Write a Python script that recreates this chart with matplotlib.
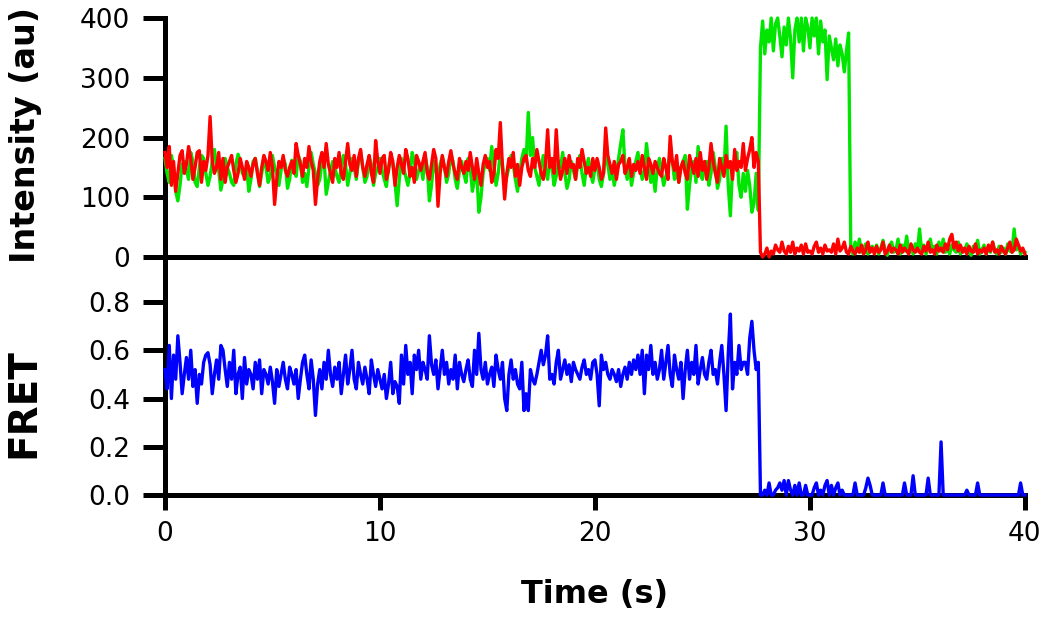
import numpy as np
import matplotlib
matplotlib.use("Agg")
from matplotlib import pyplot as plt

# single-molecule trace, one frame every 0.1 s
frame_time = 0.1

# donor (green) intensity, au
green = [
    165, 140, 125, 170, 150, 110, 94, 120, 155, 160,
    145, 130, 175, 160, 125, 118, 150, 170, 165, 140,
    120, 135, 160, 180, 150, 145, 112, 130, 165, 150,
    140, 125, 120, 155, 172, 160, 140, 135, 150, 110,
    130, 160, 165, 145, 118, 140, 162, 150, 125, 135,
    170, 150, 140, 120, 145, 165, 155, 115, 130, 162,
    150, 135, 170, 160, 125, 140, 118, 150, 175, 155,
    140, 120, 130, 158, 165, 105, 125, 145, 160, 150,
    135, 125, 150, 170, 155, 120, 140, 165, 150, 130,
    160, 175, 150, 125, 135, 168, 155, 120, 140, 150,
    165, 145, 130, 118, 150, 170, 155, 125, 86, 130,
    165, 150, 135, 120, 140, 175, 160, 130, 145, 155,
    130, 170, 150, 94, 120, 160, 145, 130, 155, 168,
    150, 125, 140, 172, 160, 130, 115, 145, 160, 140,
    125, 165, 150, 110, 130, 145, 75, 100, 140, 160,
    165, 145, 185, 150, 120, 140, 175, 155, 118, 135,
    150, 170, 155, 130, 110, 140, 165, 180, 160, 242,
    170, 200, 150, 135, 120, 150, 170, 145, 130, 165,
    150, 120, 135, 160, 150, 175, 140, 115, 130, 160,
    145, 130, 155, 170, 140, 120, 150, 165, 140, 125,
    150, 160, 130, 118, 140, 175, 155, 130, 145, 120,
    140, 165, 190, 213, 150, 130, 155, 120, 140, 160,
    175, 150, 130, 145, 190, 155, 125, 140, 110, 150,
    165, 140, 120, 135, 150, 175, 160, 130, 145, 125,
    150, 160, 170, 80, 120, 150, 160, 125, 185, 140,
    130, 155, 160, 120, 140, 175, 150, 115, 130, 165,
    140, 219, 120, 69, 150, 160, 175, 120, 100, 140,
    110, 145, 120, 75, 90, 140, 78, 350, 395, 340,
    380, 360, 400, 345, 390, 400, 370, 335, 385, 355,
    400, 365, 300, 380, 400, 360, 400, 345, 400, 385,
    350, 400, 370, 400, 340, 395, 360, 380, 297, 370,
    350, 330, 365, 320, 355, 340, 310, 345, 375, 20,
    5, 25, 10, 30, 8, 15, 22, 5, 12, 18,
    8, 20, 5, 15, 28, 10, 3, 18, 25, 8,
    12, 30, 5, 20, 10, 35, 8, 15, 5, 22,
    10, 47, 8, 20, 5, 15, 30, 10, 18, 5,
    25, 10, 30, 8, 15, 5, 20, 12, 8, 25,
    5, 15, 10, 22, 8, 3, 18, 10, 28, 5,
    12, 20, 5, 15, 8, 25, 10, 5, 18, 8,
    15, 5, 22, 10, 8, 47, 12, 20, 5, 10,
    8,
]

# acceptor (red) intensity, au
red = [
    175, 150, 185, 120, 160, 110, 140, 170, 178, 140,
    155, 185, 165, 130, 150, 175, 178, 125, 160, 145,
    170, 235, 160, 140, 150, 175, 130, 165, 125, 150,
    160, 170, 145, 125, 140, 165, 150, 130, 160, 150,
    135, 155, 165, 140, 120, 150, 170, 160, 145, 175,
    150, 88, 130, 160, 150, 170, 145, 135, 150, 160,
    140, 190, 170, 155, 135, 165, 150, 185, 160, 145,
    88, 130, 160, 175, 150, 190, 155, 140, 125, 165,
    150, 175, 140, 130, 160, 190, 155, 145, 170, 135,
    165, 180, 150, 135, 155, 170, 140, 125, 195, 160,
    140, 165, 170, 130, 145, 175, 160, 120, 150, 170,
    155, 140, 180, 165, 135, 150, 125, 170, 160, 145,
    160, 175, 140, 130, 155, 180, 165, 85, 140, 170,
    150, 135, 160, 178, 155, 140, 130, 165, 150, 140,
    160, 145, 175, 150, 130, 165, 140, 120, 155, 170,
    150, 160, 125, 140, 180, 165, 225, 150, 97, 140,
    165, 150, 175, 135, 155, 120, 150, 165, 170, 145,
    135, 165, 150, 180, 160, 140, 130, 155, 213, 150,
    165, 140, 213, 155, 130, 145, 165, 140, 170, 150,
    155, 130, 165, 150, 180, 160, 140, 150, 135, 165,
    145, 165, 150, 130, 140, 216, 170, 155, 140, 160,
    130, 155, 160, 170, 140, 150, 165, 135, 155, 145,
    160, 140, 170, 150, 130, 165, 155, 140, 160, 150,
    140, 135, 165, 150, 130, 202, 160, 145, 170, 125,
    150, 160, 140, 130, 170, 155, 140, 165, 135, 175,
    145, 160, 130, 150, 190, 160, 140, 125, 165, 150,
    135, 170, 150, 160, 130, 180, 145, 160, 150, 190,
    145, 165, 180, 200, 150, 175, 160, 8, 0, 5,
    15, 0, 10, 5, 20, 12, 8, 25, 10, 5,
    18, 8, 25, 5, 15, 10, 20, 5, 22, 8,
    10, 5, 18, 25, 8, 15, 5, 20, 10, 12,
    8, 22, 5, 30, 10, 15, 25, 8, 5, 18,
    10, 5, 15, 8, 20, 5, 12, 25, 8, 15,
    5, 18, 8, 12, 25, 5, 10, 20, 8, 15,
    12, 5, 20, 8, 15, 10, 5, 22, 12, 8,
    15, 8, 5, 18, 10, 25, 8, 12, 5, 20,
    10, 15, 8, 22, 12, 30, 38, 15, 25, 10,
    20, 8, 15, 5, 18, 10, 8, 22, 5, 12,
    8, 15, 5, 20, 10, 25, 8, 12, 5, 18,
    10, 5, 15, 25, 8, 12, 30, 20, 10, 15,
    5,
]

# FRET efficiency
fret = [
    0.52, 0.44, 0.62, 0.40, 0.58, 0.48, 0.66, 0.55, 0.42, 0.50,
    0.57, 0.48, 0.60, 0.45, 0.52, 0.38, 0.50, 0.46, 0.55, 0.58,
    0.59, 0.54, 0.42, 0.50, 0.56, 0.48, 0.62, 0.60, 0.52, 0.45,
    0.55, 0.48, 0.60, 0.42, 0.50, 0.53, 0.40, 0.57, 0.46, 0.52,
    0.50, 0.44, 0.55, 0.48, 0.56, 0.42, 0.52, 0.50, 0.46, 0.53,
    0.47, 0.38, 0.52, 0.45, 0.50, 0.55, 0.48, 0.44, 0.53, 0.50,
    0.46, 0.52, 0.40, 0.48, 0.55, 0.58, 0.50, 0.44, 0.56, 0.48,
    0.33, 0.46, 0.52, 0.44, 0.55, 0.48, 0.60, 0.50, 0.45, 0.53,
    0.48, 0.55, 0.42, 0.50, 0.58, 0.46, 0.52, 0.60, 0.48, 0.44,
    0.55, 0.50, 0.46, 0.53, 0.48, 0.42, 0.56, 0.50, 0.45, 0.52,
    0.48, 0.44, 0.50, 0.40, 0.46, 0.55, 0.42, 0.47, 0.45, 0.38,
    0.58, 0.46, 0.62, 0.50, 0.55, 0.42, 0.58, 0.52, 0.60, 0.48,
    0.55, 0.52, 0.48, 0.66, 0.54, 0.50, 0.56, 0.44, 0.52, 0.60,
    0.50, 0.55, 0.46, 0.52, 0.48, 0.58, 0.44, 0.55, 0.50, 0.47,
    0.52, 0.56, 0.48, 0.45, 0.60, 0.50, 0.67, 0.52, 0.48, 0.55,
    0.46, 0.50, 0.53, 0.45, 0.58, 0.52, 0.48, 0.55, 0.40, 0.35,
    0.50, 0.56, 0.48, 0.52, 0.46, 0.44, 0.55, 0.35, 0.42, 0.35,
    0.52, 0.48, 0.46, 0.50, 0.55, 0.60, 0.54, 0.58, 0.66, 0.48,
    0.50, 0.46, 0.55, 0.60, 0.48, 0.52, 0.56, 0.50, 0.54, 0.47,
    0.55, 0.52, 0.50, 0.48, 0.53, 0.56, 0.50, 0.52, 0.48, 0.55,
    0.56, 0.50, 0.37, 0.58, 0.52, 0.55, 0.50, 0.48, 0.52, 0.50,
    0.47, 0.52, 0.45, 0.50, 0.53, 0.48, 0.55, 0.50, 0.56, 0.52,
    0.58, 0.50, 0.60, 0.42, 0.58, 0.52, 0.62, 0.50, 0.55, 0.48,
    0.52, 0.60, 0.48, 0.55, 0.62, 0.50, 0.45, 0.58, 0.52, 0.48,
    0.55, 0.40, 0.52, 0.60, 0.48, 0.55, 0.50, 0.62, 0.46, 0.52,
    0.57, 0.50, 0.48, 0.55, 0.60, 0.50, 0.52, 0.46, 0.55, 0.62,
    0.50, 0.35, 0.58, 0.75, 0.44, 0.55, 0.50, 0.62, 0.52, 0.55,
    0.55, 0.50, 0.65, 0.72, 0.60, 0.52, 0.55, 0.00, 0.00, 0.02,
    0.00, 0.05, 0.00, 0.00, 0.02, 0.03, 0.05, 0.02, 0.06, 0.00,
    0.06, 0.02, 0.00, 0.04, 0.00, 0.05, 0.00, 0.00, 0.04, 0.00,
    0.00, 0.00, 0.03, 0.05, 0.00, 0.02, 0.00, 0.04, 0.06, 0.00,
    0.04, 0.00, 0.03, 0.05, 0.00, 0.02, 0.00, 0.00, 0.00, 0.00,
    0.00, 0.05, 0.00, 0.00, 0.00, 0.00, 0.03, 0.07, 0.04, 0.00,
    0.00, 0.00, 0.00, 0.00, 0.05, 0.00, 0.00, 0.00, 0.00, 0.00,
    0.00, 0.00, 0.00, 0.00, 0.05, 0.00, 0.00, 0.00, 0.08, 0.00,
    0.00, 0.00, 0.00, 0.00, 0.00, 0.07, 0.00, 0.00, 0.00, 0.00,
    0.00, 0.22, 0.00, 0.00, 0.00, 0.00, 0.00, 0.00, 0.00, 0.00,
    0.00, 0.00, 0.00, 0.02, 0.00, 0.00, 0.00, 0.00, 0.05, 0.00,
    0.00, 0.00, 0.00, 0.00, 0.00, 0.00, 0.00, 0.00, 0.00, 0.00,
    0.00, 0.00, 0.00, 0.00, 0.00, 0.00, 0.00, 0.00, 0.05, 0.00,
    0.00,
]

time = np.arange(len(green)) * frame_time

intensity_ticks = [0, 100, 200, 300, 400]
fret_ticks = [0.0, 0.2, 0.4, 0.6, 0.8]
time_ticks = [0, 10, 20, 30, 40]

plt.rcParams["font.family"] = "DejaVu Sans"

fig = plt.figure(figsize=(10.5, 6.18), dpi=100)
ax_fret = fig.add_axes([0.1571, 0.1990, 0.819, 0.3851])
ax_int = fig.add_axes([0.1571, 0.5841, 0.819, 0.3867])
ax_int.patch.set_visible(False)
ax_fret.patch.set_visible(False)

lw = 2.4
ax_int.plot(time, green, color="#00e600", lw=lw, zorder=3, clip_on=False)
ax_int.plot(time, red, color="#ff0000", lw=lw, zorder=4, clip_on=False)
ax_fret.plot(time, fret, color="#0000ff", lw=lw, zorder=3, clip_on=False)

for ax in (ax_int, ax_fret):
    ax.set_xlim(0, 40)
    ax.spines["top"].set_visible(False)
    ax.spines["right"].set_visible(False)
    for side in ("left", "bottom"):
        ax.spines[side].set_linewidth(3.6)
    ax.tick_params(axis="y", direction="out", length=16, width=3.6,
                   labelsize=19, pad=9)

ax_int.set_ylim(0, 400)
ax_int.set_yticks(intensity_ticks)
ax_int.tick_params(axis="x", bottom=False, labelbottom=False)

ax_fret.set_ylim(0, 0.9865)
ax_fret.set_yticks(fret_ticks)
ax_fret.set_yticklabels([f"{v:.1f}" for v in fret_ticks])
ax_fret.set_xticks(time_ticks)
ax_fret.tick_params(axis="x", direction="out", length=11, width=3.6,
                    labelsize=19, pad=8)

fig.text(0.024, 1 - 135 / 618, "Intensity (au)", rotation=90, ha="center",
         va="center", fontsize=24, fontweight="bold")
fig.text(0.022, 1 - 403 / 618, "FRET", rotation=90, ha="center",
         va="center", fontsize=28, fontweight="bold")
fig.text(595 / 1050, 1 - 594 / 618, "Time (s)", ha="center", va="center",
         fontsize=23, fontweight="bold")

fig.savefig("out.png", dpi=100)
